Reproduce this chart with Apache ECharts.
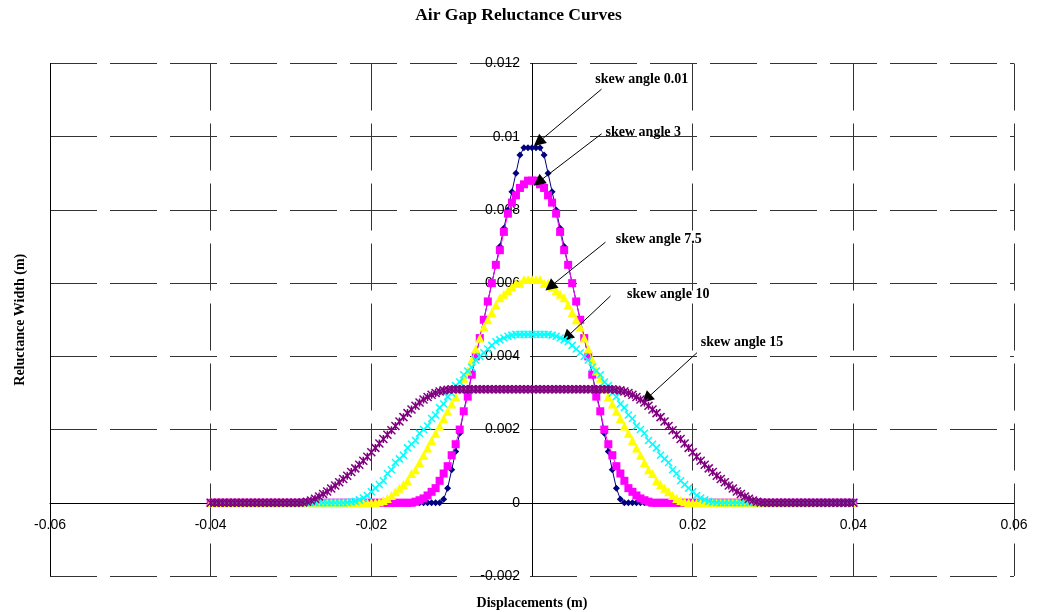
<!DOCTYPE html>
<html><head><meta charset="utf-8">
<script src="https://cdn.jsdelivr.net/npm/echarts@6/dist/echarts.min.js"></script>
<style>html,body{margin:0;padding:0;background:#fff}#c{width:1037px;height:612px}</style>
</head><body><div id="c"></div>
<script>
// Displacement (m)
const xs = [-0.04,-0.0395,-0.039,-0.0385,-0.038,-0.0375,-0.037,-0.0365,-0.036,-0.0355,-0.035,-0.0345,-0.034,-0.0335,-0.033,-0.0325,-0.032,-0.0315,-0.031,-0.0305,-0.03,-0.0295,-0.029,-0.0285,-0.028,-0.0275,-0.027,-0.0265,-0.026,-0.0255,-0.025,-0.0245,-0.024,-0.0235,-0.023,-0.0225,-0.022,-0.0215,-0.021,-0.0205,-0.02,-0.0195,-0.019,-0.0185,-0.018,-0.0175,-0.017,-0.0165,-0.016,-0.0155,-0.015,-0.0145,-0.014,-0.0135,-0.013,-0.0125,-0.012,-0.0115,-0.011,-0.0105,-0.01,-0.0095,-0.009,-0.0085,-0.008,-0.0075,-0.007,-0.0065,-0.006,-0.0055,-0.005,-0.0045,-0.004,-0.0035,-0.003,-0.0025,-0.002,-0.0015,-0.001,-0.0005,0,
0.0005,0.001,0.0015,0.002,0.0025,0.003,0.0035,0.004,0.0045,0.005,0.0055,0.006,0.0065,0.007,0.0075,0.008,0.0085,0.009,0.0095,0.01,0.0105,0.011,0.0115,0.012,0.0125,0.013,0.0135,0.014,0.0145,0.015,0.0155,0.016,0.0165,0.017,0.0175,0.018,0.0185,0.019,0.0195,0.02,0.0205,0.021,0.0215,0.022,0.0225,0.023,0.0235,0.024,0.0245,0.025,0.0255,0.026,0.0265,0.027,0.0275,0.028,0.0285,0.029,0.0295,0.03,0.0305,0.031,0.0315,0.032,0.0325,0.033,0.0335,0.034,0.0345,0.035,0.0355,0.036,0.0365,0.037,0.0375,0.038,0.0385,0.039,0.0395,0.04];

const skew001 = [0,0,0,0,0,0,0,0,0,0, 0,0,0,0,0,0,0,0,0,0, 0,0,0,0,0,0,0,0,0,0, 0,0,0,0,0,0,0,0,0,0, 0,0,0,0,0,0,0,0,0,0, 0,0,0,0,0,0,0,0,
0.0001,0.0004,0.0009,0.0014,0.0019,0.0025,0.003,0.0035,0.004,0.0045,0.005,0.0055,0.006,0.0065,0.007,0.0075,0.008,0.0085,0.009,0.0095,0.0097,0.0097,0.0097,
0.0097,0.0097,0.0095,0.009,0.0085,0.008,0.0075,0.007,0.0065,0.006,0.0055,0.005,0.0045,0.004,0.0035,0.003,0.0025,0.0019,0.0014,0.0009,0.0004,0.0001,
0,0,0,0,0,0,0,0,0,0, 0,0,0,0,0,0,0,0,0,0, 0,0,0,0,0,0,0,0,0,0, 0,0,0,0,0,0,0,0,0,0, 0,0,0,0,0,0,0,0,0,0, 0,0,0,0,0,0,0,0];

const skew3 = [0,0,0,0,0,0,0,0,0,0, 0,0,0,0,0,0,0,0,0,0, 0,0,0,0,0,0,0,0,0,0, 0,0,0,0,0,0,0,0,0,0, 0,0,0,0,0,0,0,0,0,0, 0,
0.00003,0.00007,0.00012,0.0002,0.0003,0.0004,0.0006,0.0008,0.001,0.0013,0.0016,0.002,0.0025,0.0029,0.0035,0.004,0.0045,0.005,0.0055,0.006,0.0065,0.0069,0.0074,0.0079,0.0082,0.0084,0.0086,0.0087,0.0088,0.0088,
0.0088,0.0087,0.0086,0.0084,0.0082,0.0079,0.0074,0.0069,0.0065,0.006,0.0055,0.005,0.0045,0.004,0.0035,0.0029,0.0025,0.002,0.0016,0.0013,0.001,0.0008,0.0006,0.0004,0.0003,0.0002,0.00012,0.00007,0.00003,
0,0,0,0,0,0,0,0,0,0, 0,0,0,0,0,0,0,0,0,0, 0,0,0,0,0,0,0,0,0,0, 0,0,0,0,0,0,0,0,0,0, 0,0,0,0,0,0,0,0,0,0, 0];

const skew75 = [0,0,0,0,0,0,0,0,0,0, 0,0,0,0,0,0,0,0,0,0, 0,0,0,0,0,0,0,0,0,0, 0,0,0,0,0,0,0,0,0,0, 0,
0.00001,0.00003,0.00006,0.00012,0.0002,0.0003,0.0004,0.0005,0.0006,0.0008,0.0009,0.0011,0.0013,0.0015,0.0017,0.0019,0.0021,0.0023,0.0025,0.0027,0.0029,0.0031,0.0034,0.0036,0.0039,0.0042,0.0045,0.0048,0.005,0.0052,0.0054,0.0056,0.0057,0.0058,0.0059,0.006,0.006,0.0061,0.0061,0.0061,
0.0061,0.0061,0.006,0.006,0.0059,0.0058,0.0057,0.0056,0.0054,0.0052,0.005,0.0048,0.0045,0.0042,0.0039,0.0036,0.0034,0.0031,0.0029,0.0027,0.0025,0.0023,0.0021,0.0019,0.0017,0.0015,0.0013,0.0011,0.0009,0.0008,0.0006,0.0005,0.0004,0.0003,0.0002,0.00012,0.00006,0.00003,0.00001,
0,0,0,0,0,0,0,0,0,0, 0,0,0,0,0,0,0,0,0,0, 0,0,0,0,0,0,0,0,0,0, 0,0,0,0,0,0,0,0,0,0, 0];

const skew10 = [0,0,0,0,0,0,0,0,0,0, 0,0,0,0,0,0,0,0,0,0, 0,0,0,0,0,0,0,0,0,0, 0,0,0,0,
0.00001,0.00002,0.00004,0.00008,0.00013,0.0002,0.0003,0.0004,0.0005,0.0006,0.0008,0.0009,0.0011,0.0012,0.0013,0.0015,0.0016,0.0017,0.0019,0.002,0.0021,0.0023,0.0024,0.0026,0.0027,0.0029,0.003,0.0032,0.0033,0.0035,0.0036,0.0037,0.0039,0.004,0.0041,0.0042,0.0043,0.0044,0.00445,0.0045,0.00455,0.00458,0.0046,0.0046,0.0046,0.0046,0.0046,
0.0046,0.0046,0.0046,0.0046,0.00458,0.00455,0.0045,0.00445,0.0044,0.0043,0.0042,0.0041,0.004,0.0039,0.0037,0.0036,0.0035,0.0033,0.0032,0.003,0.0029,0.0027,0.0026,0.0024,0.0023,0.0021,0.002,0.0019,0.0017,0.0016,0.0015,0.0013,0.0012,0.0011,0.0009,0.0008,0.0006,0.0005,0.0004,0.0003,0.0002,0.00013,0.00008,0.00004,0.00002,0.00001,
0,0,0,0,0,0,0,0,0,0, 0,0,0,0,0,0,0,0,0,0, 0,0,0,0,0,0,0,0,0,0, 0,0,0,0];

const skew15 = [0,0,0,0,0,0,0,0,0,0, 0,0,0,0,0,0,0,0,0,0, 0,0,0,
0.00001,0.00003,0.00006,0.00011,0.00017,0.00024,0.00031,0.00039,0.00047,0.00056,0.00065,0.00074,0.00084,0.00094,0.00104,0.00115,0.00126,0.00138,0.0015,0.00162,0.00174,0.00186,0.00198,0.0021,0.00222,0.00234,0.00245,0.00255,0.00265,0.00274,0.00282,0.00289,0.00295,0.003,0.00304,0.00307,0.00309,0.0031,0.0031,0.0031,
0.0031,0.0031,0.0031,0.0031,0.0031,0.0031,0.0031,0.0031,0.0031,0.0031,0.0031,0.0031,0.0031,0.0031,0.0031,0.0031,0.0031,0.0031,
0.0031,0.0031,0.0031,0.0031,0.0031,0.0031,0.0031,0.0031,0.0031,0.0031,0.0031,0.0031,0.0031,0.0031,0.0031,0.0031,0.0031,0.0031,0.0031,0.0031,0.00309,0.00307,0.00304,0.003,0.00295,0.00289,0.00282,0.00274,0.00265,0.00255,0.00245,0.00234,0.00222,0.0021,0.00198,0.00186,0.00174,0.00162,0.0015,0.00138,0.00126,0.00115,0.00104,0.00094,0.00084,0.00074,0.00065,0.00056,0.00047,0.00039,0.00031,0.00024,0.00017,0.00011,0.00006,0.00003,0.00001,
0,0,0,0,0,0,0,0,0,0, 0,0,0,0,0,0,0,0,0,0, 0,0,0];

const seriesNames = ['skew angle 0.01','skew angle 3','skew angle 7.5','skew angle 10','skew angle 15'];
const seriesValues = [skew001, skew3, skew75, skew10, skew15];

// axis ranges
const xMin = -0.06, xMax = 0.06, xStep = 0.02;
const yMin = -0.002, yMax = 0.012, yStep = 0.002;

// annotation callouts (data coordinates)
const annoText = ['skew angle 0.01','skew angle 3','skew angle 7.5','skew angle 10','skew angle 15'];
const annoTextAt = [[0.01366,0.01157],[0.01385,0.01013],[0.01578,0.0072],[0.01696,0.0057],[0.02615,0.00439]];
const arrowFrom = [[0.00866,0.0113],[0.00866,0.01008],[0.00915,0.00712],[0.00977,0.00565],[0.02054,0.0041]];
const arrowTo = [[0.0008,0.00985],[0.0008,0.00876],[0.00225,0.0059],[0.0043,0.00452],[0.01425,0.00284]];

const serifFont = '"Liberation Serif","Times New Roman",serif';
const sansFont = '"Liberation Sans",Arial,sans-serif';
const styles = [
  {color:'#000080', symbol:'diamond', size:7, line:1, border:0},
  {color:'#FF00FF', symbol:'rect', size:8, line:1, border:0},
  {color:'#FFFF00', symbol:'triangle', size:9, line:1, border:0},
  {color:'#00FFFF', symbol:'path://M0,0L10,10M10,0L0,10', size:7, line:1, border:1.5},
  {color:'#800080', symbol:'path://M0,0L10,10M10,0L0,10M5,0L5,10', size:8, line:1, border:1.5}
];

// layout
const W = 1037, H = 612;
const gL = 50, gR = 23, gT = 63.5, gB = 36;
const gW = W - gL - gR, gH = H - gT - gB;
const xZeroOffset = -gH * (0 - yMin) / (yMax - yMin);   // move bottom x axis up to y=0
const yZeroOffset = -gW * (0 - xMin) / (xMax - xMin);   // move left y axis right to x=0

const gridDash = {color:'#333', width:1, type:[47,13]};

const series = seriesValues.map((vals, i) => {
  const st = styles[i];
  const s = {
    name: seriesNames[i], type:'line', xAxisIndex:0, yAxisIndex:0,
    data: xs.map((x, j) => [x, vals[j]]),
    symbol: st.symbol, symbolSize: st.size, showSymbol:true, showAllSymbol:true,
    lineStyle:{color:st.color, width:st.line},
    itemStyle:{color:st.color, borderColor:st.color, borderWidth:st.border},
    emphasis:{disabled:true}, silent:true, z: 2 + i
  };
  if (i === seriesValues.length - 1) {
    s.markLine = {
      silent:true, symbol:['none','triangle'], symbolSize:12, precision:6,
      lineStyle:{color:'#000', width:1, type:'solid'},
      itemStyle:{color:'#000'},
      label:{show:false},
      emphasis:{disabled:true},
      data: arrowFrom.map((f, k) => [{coord:f}, {coord:arrowTo[k]}])
    };
    s.markPoint = {
      silent:true, symbol:'circle', symbolSize:1,
      itemStyle:{color:'rgba(0,0,0,0)'},
      label:{show:true, position:'inside', color:'#000', fontFamily:serifFont, fontWeight:'bold', fontSize:14,
        formatter: p => p.name},
      data: annoText.map((t, k) => ({name:t, coord:annoTextAt[k]}))
    };
  }
  return s;
});

const chart = echarts.init(document.getElementById('c'), null, {renderer:'canvas'});
chart.setOption({
  animation:false,
  backgroundColor:'#fff',
  title:{text:'Air Gap Reluctance Curves', left:'center', top:1,
    textStyle:{fontFamily:serifFont, fontWeight:'bold', fontSize:17.5, color:'#000'}},
  grid:{left:gL, right:gR, top:gT, bottom:gB, containLabel:false, outerBoundsMode:'none'},
  xAxis:[
    {type:'value', position:'bottom', offset:xZeroOffset, min:xMin, max:xMax, interval:xStep,
     axisLine:{show:true, onZero:false, lineStyle:{color:'#000', width:1}},
     axisTick:{show:false},
     axisLabel:{margin:15, color:'#000', fontFamily:sansFont, fontSize:14, hideOverlap:false,
       formatter: v => (Math.abs(v) < 1e-9 ? '' : String(+v.toFixed(4)))},
     splitLine:{show:true, lineStyle:gridDash},
     name:'Displacements (m)', nameLocation:'middle', nameGap:-xZeroOffset + 20,
     nameTextStyle:{fontFamily:serifFont, fontWeight:'bold', fontSize:14, color:'#000'}}
  ],
  yAxis:[
    {type:'value', position:'left', offset:yZeroOffset, min:yMin, max:yMax, interval:yStep,
     axisLine:{show:true, onZero:false, lineStyle:{color:'#000', width:1}},
     axisTick:{show:false},
     axisLabel:{margin:12, color:'#000', fontFamily:sansFont, fontSize:14, hideOverlap:false,
       formatter: v => String(+v.toFixed(4))},
     splitLine:{show:true, lineStyle:gridDash},
     name:'Reluctance Width (m)', nameLocation:'middle', nameGap:-yZeroOffset + 23, nameRotate:90,
     nameTextStyle:{fontFamily:serifFont, fontWeight:'bold', fontSize:14, color:'#000'}},
    {type:'value', position:'right', offset:-gW, min:yMin, max:yMax, interval:yStep,
     axisLine:{show:true, onZero:false, lineStyle:{color:'#000', width:1}},
     axisTick:{show:false}, axisLabel:{show:false}, splitLine:{show:false}}
  ],
  series: series
});
</script>
</body></html>
